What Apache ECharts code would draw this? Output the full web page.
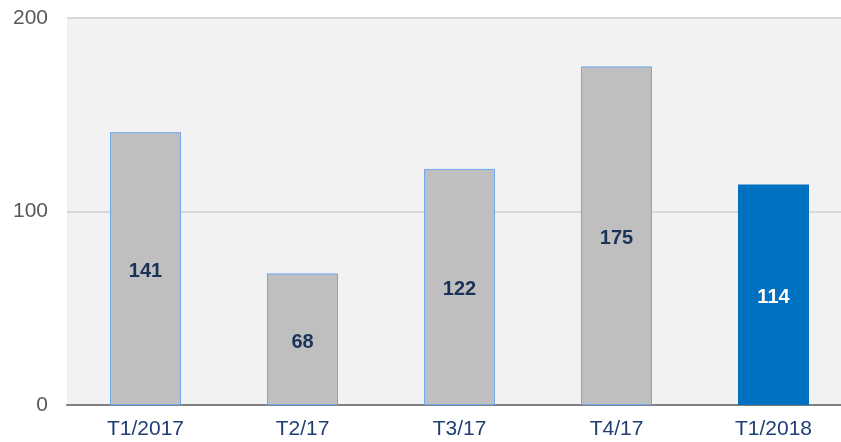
<!DOCTYPE html>
<html>
<head>
<meta charset="utf-8">
<script src="https://cdn.jsdelivr.net/npm/echarts@6/dist/echarts.min.js"></script>
<style>
  html, body { margin: 0; padding: 0; background: #fff; }
  #chart { width: 841px; height: 442px; }
</style>
</head>
<body>
<div id="chart"></div>
<script>
// données
const categories = ['T1/2017', 'T2/17', 'T3/17', 'T4/17', 'T1/2018'];
const values = [141, 68, 122, 175, 114];
const yTicks = [0, 100, 200];

const c = echarts.init(document.getElementById('chart'));

// dernière barre en bleu
const barData = values.map((v, i) => {
    const last = i === values.length - 1;
    return {
        value: v,
        itemStyle: last
            ? { color: '#0070c0', borderColor: '#0070c0', borderWidth: 0 }
            : { color: '#bfbfbf', borderColor: '#6fa8ef', borderWidth: 1 },
        label: { color: last ? '#ffffff' : '#1b3257' }
    };
});

c.setOption({
    animation: false,
    grid: {
        left: 67, top: 18, width: 785, bottom: 37,
        outerBoundsMode: 'none', containLabel: false,
        backgroundColor: '#f2f2f2', show: true, borderWidth: 0
    },
    xAxis: {
        type: 'category',
        data: categories,
        axisTick: { show: false },
        axisLine: { lineStyle: { color: '#808080', width: 2 } },
        axisLabel: { color: '#1f3f73', fontSize: 21, fontFamily: 'Liberation Sans, Arial', margin: 14 }
    },
    yAxis: {
        type: 'value',
        min: yTicks[0],
        max: yTicks[yTicks.length - 1],
        interval: 100,
        axisLine: { show: false },
        axisTick: { show: false },
        splitLine: { lineStyle: { color: '#d9d9d9', width: 2 } },
        axisLabel: { color: '#595959', fontSize: 21, fontFamily: 'Liberation Sans, Arial', margin: 19 }
    },
    series: [{
        type: 'bar',
        data: barData,
        barWidth: 71,
        label: {
            show: true,
            position: 'inside',
            offset: [0, 3],
            fontSize: 20,
            fontWeight: 'bold',
            fontFamily: 'Liberation Sans, Arial'
        }
    }]
});
</script>
</body>
</html>
